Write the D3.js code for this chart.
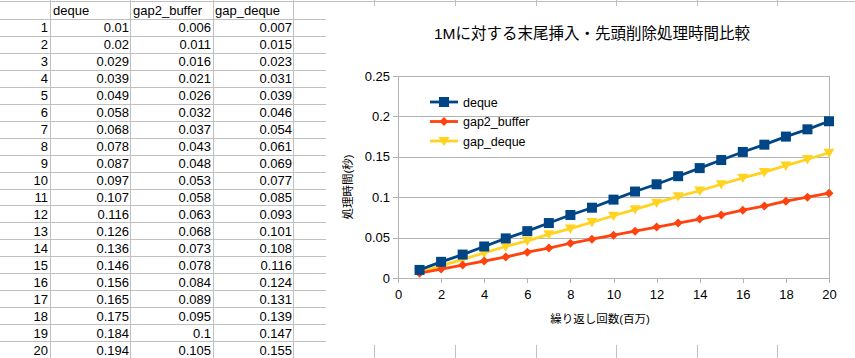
<!DOCTYPE html>
<html>
<head>
<meta charset="utf-8">
<script src="https://cdn.jsdelivr.net/npm/d3@7"></script>
<style>
html, body { margin: 0; padding: 0; background: #fff; }
svg { display: block; }
</style>
</head>
<body>
<svg id="c" width="855" height="358"></svg>
<script>
// ---- data ----
const categories = [1,2,3,4,5,6,7,8,9,10,11,12,13,14,15,16,17,18,19,20];
const seriesNames = ["deque", "gap2_buffer", "gap_deque"];
const dequeValues = [0.01,0.02,0.029,0.039,0.049,0.058,0.068,0.078,0.087,0.097,0.107,0.116,0.126,0.136,0.146,0.156,0.165,0.175,0.184,0.194];
const gap2BufferValues = [0.006,0.011,0.016,0.021,0.026,0.032,0.037,0.043,0.048,0.053,0.058,0.063,0.068,0.073,0.078,0.084,0.089,0.095,0.1,0.105];
const gapDequeValues = [0.007,0.015,0.023,0.031,0.039,0.046,0.054,0.061,0.069,0.077,0.085,0.093,0.101,0.108,0.116,0.124,0.131,0.139,0.147,0.155];
const xTicks = [0,2,4,6,8,10,12,14,16,18,20];
const yTicks = [0,0.05,0.1,0.15,0.2,0.25];
const chartTitle = "1Mに対する末尾挿入・先頭削除処理時間比較";
const xTitle = "繰り返し回数(百万)";
const yTitle = "処理時間(秒)";

const seriesValues = [dequeValues, gap2BufferValues, gapDequeValues];
const colors = ["#004586", "#ff420e", "#ffd320"];
const shapes = [d3.symbolSquare, d3.symbolDiamond, "tri"];

const svg = d3.select("#c");
const gridColor = "#c0c0c0";
const tableFont = "'Liberation Sans', Arial, sans-serif";
const cjkFont = "'Liberation Sans', 'Noto Sans CJK JP', sans-serif";

// ---- spreadsheet background ----
const colEdges = [50, 130, 213, 293, 374, 455, 536, 616, 697, 777];
const rowTop = 1, headerBottom = 19, rowH = 16.95;
const sheet = svg.append("g").attr("shape-rendering", "crispEdges");
const hLines = [rowTop];
for (let i = 0; i <= categories.length; i++) hLines.push(headerBottom + i * rowH);
sheet.selectAll("line.h").data(hLines).join("line")
  .attr("x1", 0).attr("x2", 855)
  .attr("y1", d => Math.round(d) + 0.5).attr("y2", d => Math.round(d) + 0.5)
  .attr("stroke", gridColor);
sheet.selectAll("line.v").data(colEdges).join("line")
  .attr("x1", d => d + 0.5).attr("x2", d => d + 0.5)
  .attr("y1", 0).attr("y2", 358)
  .attr("stroke", gridColor);

// table text
const tg = svg.append("g").attr("font-family", tableFont).attr("font-size", 13).attr("fill", "#000");
const headerX = [53, 133, 215];
seriesNames.forEach((n, i) => {
  tg.append("text").attr("x", headerX[i]).attr("y", headerBottom - 4).text(n);
});
const valRight = [129, 211, 292];
categories.forEach((c, r) => {
  const yb = headerBottom + (r + 1) * rowH - 3.5;
  tg.append("text").attr("x", 48).attr("y", yb).attr("text-anchor", "end").text(c);
  seriesValues.forEach((vals, i) => {
    tg.append("text").attr("x", valRight[i]).attr("y", yb).attr("text-anchor", "end").text(String(vals[r]));
  });
});

// ---- chart overlay ----
svg.append("rect").attr("x", 326).attr("y", 6).attr("width", 529).attr("height", 339).attr("fill", "#fff");

const plot = { left: 398, right: 829, top: 76, bottom: 278 };
const x = d3.scaleLinear().domain([0, 20]).range([plot.left, plot.right]);
const y = d3.scaleLinear().domain([0, 0.25]).range([plot.bottom, plot.top]);

const axisColor = "#b3b3b3";
svg.append("g").selectAll("line").data(yTicks).join("line")
  .attr("x1", plot.left).attr("x2", plot.right)
  .attr("y1", d => Math.round(y(d)) + 0.5).attr("y2", d => Math.round(y(d)) + 0.5)
  .attr("stroke", axisColor).attr("shape-rendering", "crispEdges");
svg.append("rect").attr("x", plot.left + 0.5).attr("y", Math.round(plot.top) + 0.5)
  .attr("width", plot.right - plot.left).attr("height", plot.bottom - plot.top)
  .attr("fill", "none").attr("stroke", axisColor).attr("shape-rendering", "crispEdges");

const fmtY = d => String(+d.toFixed(2));
const yAxis = d3.axisLeft(y).tickValues(yTicks).tickFormat(fmtY).tickSize(5).tickPadding(3);
const yg = svg.append("g").attr("transform", `translate(${plot.left},0)`).call(yAxis);
const xAxis = d3.axisBottom(x).tickValues(xTicks).tickFormat(d3.format("d")).tickSize(5).tickPadding(7);
const xg = svg.append("g").attr("transform", `translate(0,${plot.bottom})`).call(xAxis);
[yg, xg].forEach(g => {
  g.select(".domain").remove();
  g.selectAll(".tick line").attr("stroke", axisColor).attr("shape-rendering", "crispEdges");
  g.selectAll(".tick text").attr("font-family", tableFont).attr("font-size", 13).attr("fill", "#000");
});

function marker(sel, i, cx, cy) {
  if (shapes[i] === "tri") {
    const s = 5.5;
    sel.append("path").attr("d", `M${cx - s},${cy - s * 0.75}L${cx + s},${cy - s * 0.75}L${cx},${cy + s * 0.95}Z`).attr("fill", colors[i]);
  } else if (shapes[i] === d3.symbolSquare) {
    sel.append("rect").attr("x", cx - 5).attr("y", cy - 5).attr("width", 10).attr("height", 10).attr("fill", colors[i]);
  } else {
    const s = 4.5;
    sel.append("path").attr("d", `M${cx},${cy - s}L${cx + s},${cy}L${cx},${cy + s}L${cx - s},${cy}Z`).attr("fill", colors[i]);
  }
}
const line = d3.line().x((d, k) => x(categories[k])).y(d => y(d));
[2, 1, 0].forEach(i => {
  const g = svg.append("g");
  g.append("path").attr("d", line(seriesValues[i])).attr("fill", "none")
    .attr("stroke", colors[i]).attr("stroke-width", 2.8).attr("stroke-linejoin", "round");
  seriesValues[i].forEach((v, k) => marker(g, i, x(categories[k]), y(v)));
});

// legend
const legY = [102, 121.5, 141];
seriesNames.forEach((n, i) => {
  const g = svg.append("g");
  g.append("line").attr("x1", 430).attr("x2", 458).attr("y1", legY[i]).attr("y2", legY[i])
    .attr("stroke", colors[i]).attr("stroke-width", 2.8);
  marker(g, i, 444, legY[i]);
  g.append("text").attr("x", 463).attr("y", legY[i] + 4.5)
    .attr("font-family", tableFont).attr("font-size", 12.5).text(n);
});

// titles
svg.append("text").attr("x", 592).attr("y", 39).attr("text-anchor", "middle")
  .attr("font-family", cjkFont).attr("font-size", 15.5).attr("fill", "#000").text(chartTitle);
svg.append("text").attr("x", 600).attr("y", 323).attr("text-anchor", "middle")
  .attr("font-family", cjkFont).attr("font-size", 11.5).attr("fill", "#000").text(xTitle);
svg.append("text").attr("transform", "translate(352,187) rotate(-90)").attr("text-anchor", "middle")
  .attr("font-family", cjkFont).attr("font-size", 11.5).attr("fill", "#000").text(yTitle);
</script>
</body>
</html>
